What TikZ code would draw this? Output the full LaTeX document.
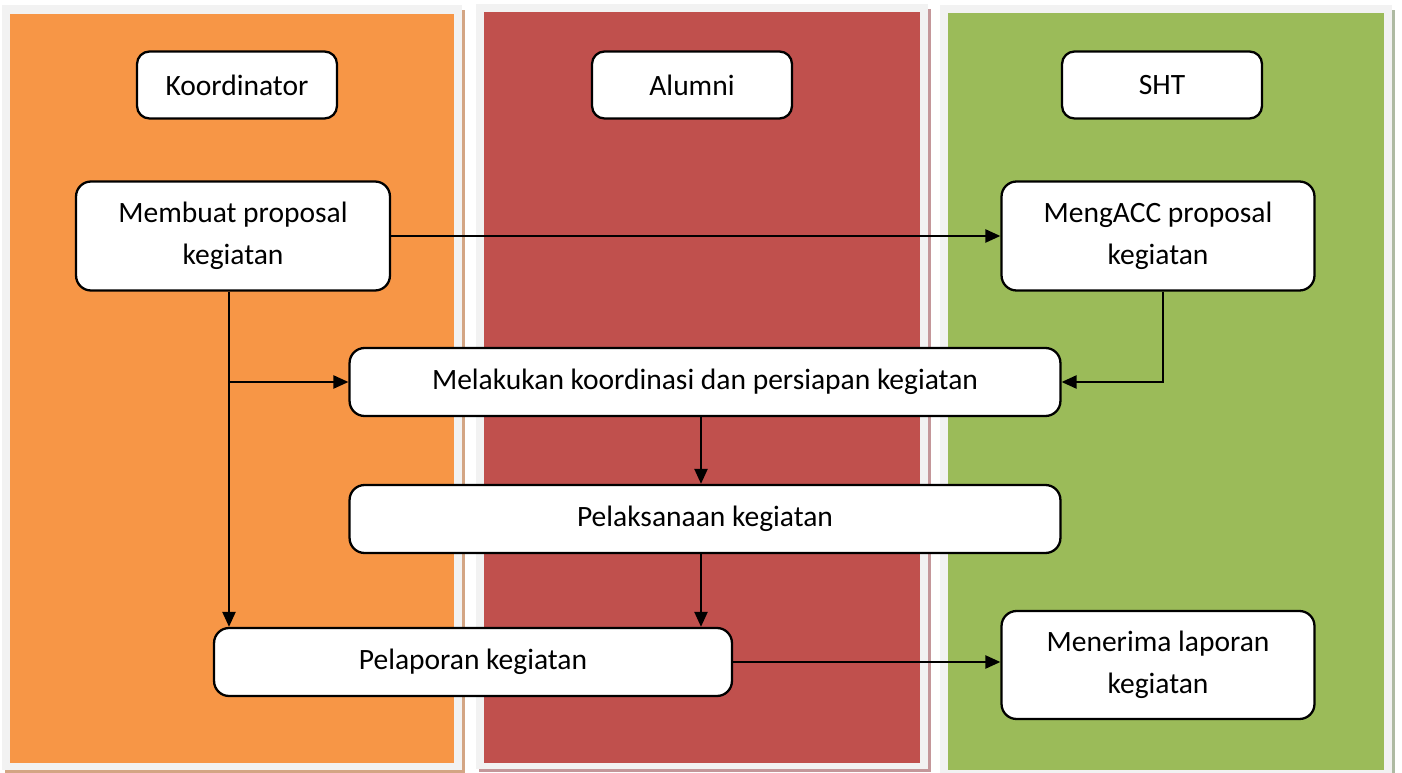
\documentclass[tikz,border=0pt]{standalone}
\usepackage{fontspec}
\setmainfont{Carlito}
\usetikzlibrary{arrows.meta}

\definecolor{lanegray}{HTML}{F2F2F2}
\definecolor{koorcol}{HTML}{F79646}
\definecolor{alumcol}{HTML}{C0504D}
\definecolor{shtcol}{HTML}{9BBB59}
\definecolor{koorshade}{HTML}{D3A584}
\definecolor{alumshade}{HTML}{C4979A}
\definecolor{shtshade}{HTML}{AEBAA2}

\tikzset{
  laneshadow/.style={fill=#1, draw=none},
  laneframe/.style={fill=lanegray, draw=none},
  lanefill/.style={fill=#1, draw=none},
  headbox/.style={draw, line width=1.3pt, rounded corners=0.25cm, fill=white,
    minimum width=4cm, minimum height=1.34cm,
    font=\fontsize{16.8}{23.8}\selectfont},
  procbox/.style={draw, line width=1.3pt, rounded corners=0.3cm, fill=white,
    align=center, inner sep=2pt,
    font=\fontsize{16.8}{23.8}\selectfont},
  flowarrow/.style={line width=1.3pt, -{Triangle[length=0.3cm,width=0.26cm]}},
}

\begin{document}
\begin{tikzpicture}[x=0.02cm,y=-0.02cm]
  \useasboundingbox (0,0) rectangle (1402,773);

  % swim lanes
  \fill[laneshadow=koorshade] (5,10) rectangle (465,773);
  \fill[laneframe] (2,5) rectangle (462,770);
  \fill[lanefill=koorcol] (10,14) rectangle (454,763);

  \fill[laneshadow=alumshade] (479,9) rectangle (931,772);
  \fill[laneframe] (476,4) rectangle (928,769);
  \fill[lanefill=alumcol] (484,12) rectangle (920,763);

  \fill[laneshadow=shtshade] (943,10) rectangle (1395,775);
  \fill[laneframe] (940,5) rectangle (1392,773);
  \fill[lanefill=shtcol] (948,13) rectangle (1384,770);

  % Draw nodes
  \node[headbox] (koordinator) at (237,85) {Koordinator};
  \node[headbox] (alumni) at (692,85) {Alumni};
  \node[headbox] (sht) at (1162,85) {SHT};

  \node[procbox, minimum width=6.28cm, minimum height=2.18cm] (proposal) at (233,236)
    {Membuat proposal\\kegiatan};
  \node[procbox, minimum width=6.26cm, minimum height=2.18cm] (mengacc) at (1158,236)
    {MengACC proposal\\kegiatan};
  \node[procbox, minimum width=14.22cm, minimum height=1.36cm] (koordinasi) at (705,382)
    {Melakukan koordinasi dan persiapan kegiatan};
  \node[procbox, minimum width=14.22cm, minimum height=1.36cm] (pelaksanaan) at (705,519)
    {Pelaksanaan kegiatan};
  \node[procbox, minimum width=10.36cm, minimum height=1.36cm] (pelaporan) at (473,662)
    {Pelaporan kegiatan};
  \node[procbox, minimum width=6.26cm, minimum height=2.16cm] (menerima) at (1158,665)
    {Menerima laporan\\kegiatan};

  % connectors
  \coordinate (split) at (229,382);
  \coordinate (accdown) at (1163,382);
  \coordinate (midline) at (701,450);

  \draw[flowarrow] (proposal) -- (mengacc);
  \draw[flowarrow] (proposal.south -| split) -- (pelaporan.north -| split);
  \draw[flowarrow] (split) -- (koordinasi.west);
  \draw[flowarrow] (mengacc.south -| accdown) |- (koordinasi.east);
  \draw[flowarrow] (koordinasi.south -| midline) -- (pelaksanaan.north -| midline);
  \draw[flowarrow] (pelaksanaan.south -| midline) -- (pelaporan.north -| midline);
  \draw[flowarrow] (pelaporan) -- (menerima.west |- pelaporan);

\end{tikzpicture}
\end{document}
